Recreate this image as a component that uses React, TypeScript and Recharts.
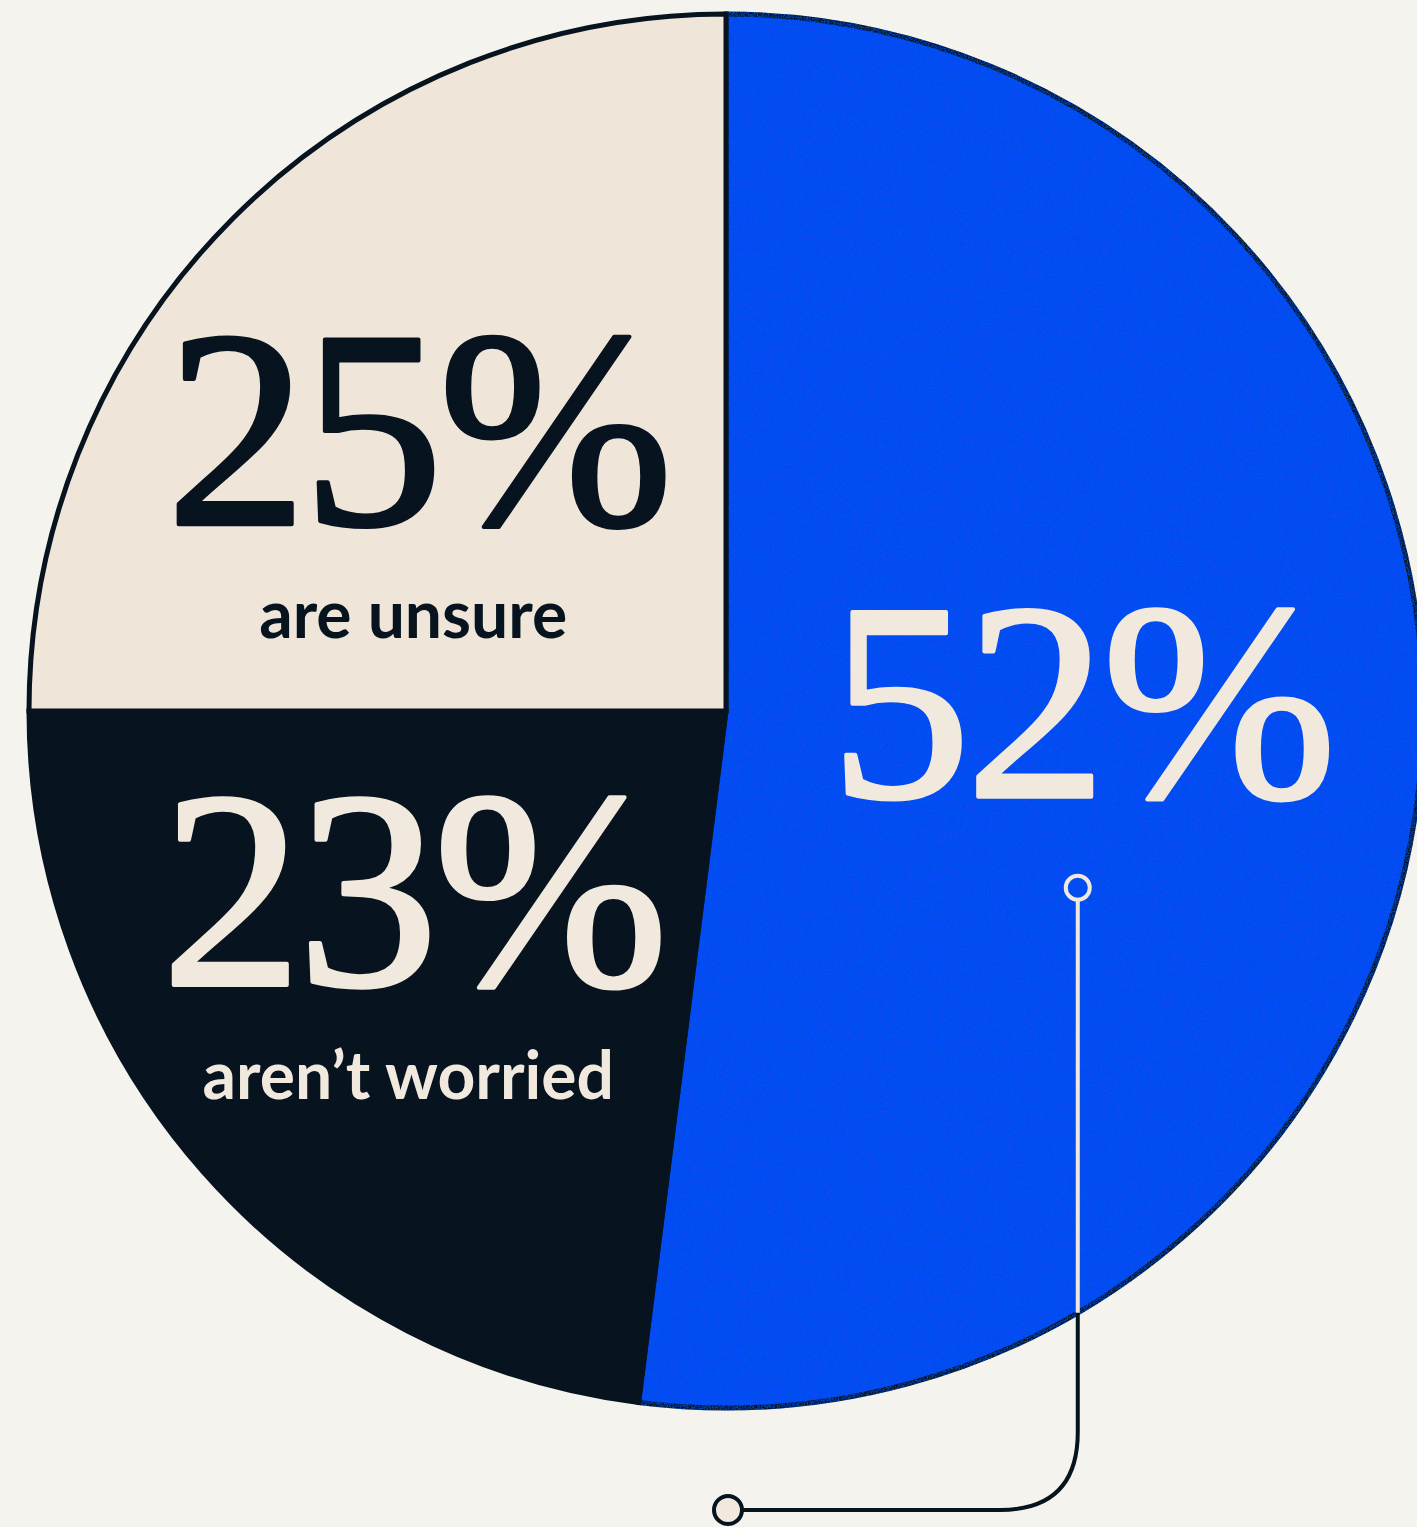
import React from "react";
import { PieChart, Pie, Cell } from "recharts";

const W = 1417;
const H = 1527;

const SEGMENTS = ["Worried", "Not worried", "Unsure"];
const SHARES = [52, 23, 25];
const CAPTIONS = ["", "aren\u2019t worried", "are unsure"];

const PAGE = "#f5f3ee";
const INK = "#07131f";
const CREAM = "#f1e9dd";
const BEIGE = "#efe6d9";
const BLUE = "#0b4af5";

const FILLS = [BLUE, INK, BEIGE];
const TEXT = [CREAM, CREAM, INK];

const data = SEGMENTS.map((name, i) => ({ name, value: SHARES[i] }));

// where each label block sits, relative to the pie centre, as a fraction of the radius
const LABEL_AT = [
  { dx: 0.509, dy: 0.123 },
  { dx: -0.45, dy: 0.393 },
  { dx: -0.443, dy: -0.268 },
];

const SERIF = "'Liberation Serif', 'DejaVu Serif', serif";
const SANS = "Lato, 'Open Sans', sans-serif";

const renderLabel = (props: any) => {
  const { cx, cy, outerRadius, index } = props;
  const r = outerRadius as number;
  const pos = LABEL_AT[index];
  const x = cx + pos.dx * r;
  const y = cy + pos.dy * r;
  const color = TEXT[index];

  return (
    <g key={`lbl-${index}`}>
      <text
        x={x}
        y={y}
        textAnchor="middle"
        fill={color}
        stroke={color}
        strokeWidth={4}
        strokeLinejoin="round"
        fontFamily={SERIF}
        fontWeight={400}
        fontSize={282}
        letterSpacing={-5}
      >
        {SHARES[index]}%
      </text>
      {CAPTIONS[index] && (
        <text
          x={x - 4}
          y={y + 114}
          textAnchor="middle"
          fill={color}
          fontFamily={SANS}
          fontWeight={700}
          fontSize={66}
        >
          {CAPTIONS[index]}
        </text>
      )}
      {index === 0 && <Callout cx={cx} cy={cy} r={r} x={x - 3} y={y} />}
    </g>
  );
};

const Callout = ({ cx, cy, r, x, y }: { cx: number; cy: number; r: number; x: number; y: number }) => {
  const top = y + 91;
  const edge = cy + Math.sqrt(r * r - (x - cx) * (x - cx));
  const bottom = 1510;
  const bend = 78;
  const endX = 728;
  return (
    <g>
      <path
        d={`M${x},${edge} L${x},${bottom - bend} Q${x},${bottom} ${x - bend},${bottom} L${endX + 15},${bottom}`}
        fill="none"
        stroke={INK}
        strokeWidth={4}
      />
      <circle cx={endX} cy={bottom} r={14} fill={CREAM} stroke={INK} strokeWidth={4} />
      <line x1={x} y1={top + 12} x2={x} y2={edge} stroke={CREAM} strokeWidth={4} />
      <circle cx={x} cy={top} r={12} fill="none" stroke={CREAM} strokeWidth={4} />
    </g>
  );
};

export default function App() {
  return (
    <div
      style={{
        position: "absolute",
        left: 0,
        top: 0,
        width: W,
        height: H,
        overflow: "hidden",
        background: PAGE,
      }}
    >
      <svg width={0} height={0} style={{ position: "absolute" }}>
        <defs>
          <filter id="grain" x="-3%" y="-3%" width="106%" height="106%">
            <feTurbulence type="fractalNoise" baseFrequency="0.7" numOctaves={2} seed={4} result="noise" />
            <feColorMatrix
              in="noise"
              type="matrix"
              values="0 0 0 0 0  0 0 0 0 0.1  0 0 0 0 0.78  1.8 0 0 0 -0.7"
              result="speck"
            />
            <feComposite in="speck" in2="SourceGraphic" operator="in" result="speckIn" />
            <feMerge>
              <feMergeNode in="SourceGraphic" />
              <feMergeNode in="speckIn" />
            </feMerge>
          </filter>
        </defs>
      </svg>
      <PieChart width={W} height={H} margin={{ top: 0, right: 0, bottom: 0, left: 0 }}>
        <Pie
          data={data}
          dataKey="value"
          nameKey="name"
          cx={726}
          cy={711}
          outerRadius={697}
          startAngle={90}
          endAngle={-270}
          stroke={INK}
          strokeWidth={5}
          label={renderLabel}
          labelLine={false}
          isAnimationActive={false}
        >
          {data.map((d, i) => (
            <Cell key={d.name} fill={FILLS[i]} filter={i === 0 ? "url(#grain)" : undefined} />
          ))}
        </Pie>
      </PieChart>
    </div>
  );
}
